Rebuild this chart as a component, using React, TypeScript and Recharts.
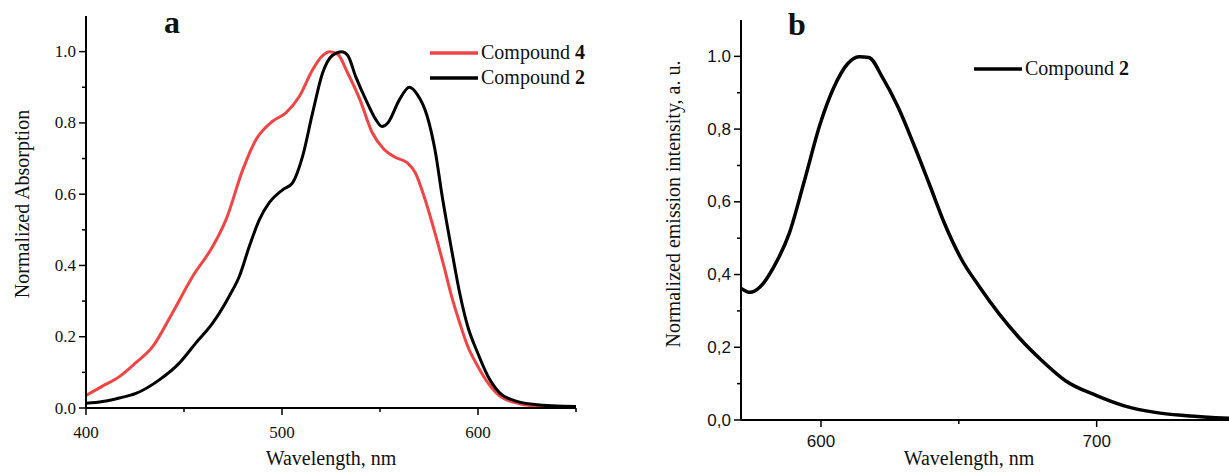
import { LineChart, Line, XAxis, YAxis, Legend, Label } from 'recharts';

// Panel a: absorption spectra
const absWaveCompound2 = [400, 408.5, 417, 425.5, 437.4, 447.6, 456, 464.6, 473, 478.2, 483.3, 488.4, 493.5, 500.3, 505.4, 510.5, 515.6, 520.7, 525.8, 530.5, 533.5, 537.6, 542.7, 547.8, 551, 554, 560, 565, 569, 574, 578, 582, 586.5, 590.6, 594.7, 599.8, 605, 611, 619, 629, 650];
const absCompound2 = [0.013, 0.018, 0.028, 0.041, 0.079, 0.126, 0.182, 0.238, 0.313, 0.369, 0.453, 0.528, 0.576, 0.612, 0.632, 0.706, 0.828, 0.94, 0.99, 1.0, 0.99, 0.93, 0.866, 0.81, 0.79, 0.8, 0.866, 0.9, 0.88, 0.82, 0.726, 0.585, 0.445, 0.324, 0.23, 0.155, 0.09, 0.043, 0.02, 0.01, 0.004];

const absWaveCompound4 = [400, 408, 417, 425, 434, 444, 454.4, 464.6, 471.4, 480, 486.7, 495, 502, 508.8, 515.6, 520, 524.4, 528.4, 533.5, 539.7, 546, 552, 558, 564, 568, 573, 578, 582.5, 586.5, 590.6, 594.7, 599.8, 605, 611, 619, 627, 650];
const absCompound4 = [0.035, 0.06, 0.088, 0.125, 0.172, 0.266, 0.369, 0.453, 0.528, 0.669, 0.753, 0.804, 0.828, 0.874, 0.949, 0.985, 1.0, 0.993, 0.94, 0.866, 0.773, 0.726, 0.703, 0.688, 0.66, 0.585, 0.492, 0.4, 0.314, 0.24, 0.174, 0.118, 0.071, 0.034, 0.015, 0.006, 0.002];

// Panel b: emission spectrum
const emWave = [571, 574.3, 577.8, 582.8, 588.4, 594, 599.7, 604.7, 609.6, 613.8, 617.4, 622.3, 628, 633.6, 639.3, 644.9, 650.6, 657.6, 664.7, 671.8, 680.2, 688.7, 700, 710, 721.2, 732.5, 748];
const emCompound2 = [0.362, 0.351, 0.365, 0.42, 0.511, 0.658, 0.814, 0.915, 0.979, 0.999, 0.997, 0.942, 0.86, 0.759, 0.649, 0.539, 0.447, 0.365, 0.291, 0.227, 0.163, 0.108, 0.067, 0.039, 0.021, 0.012, 0.005];

const leftXTicks = [400, 450, 500, 550, 600, 650];
const leftXMajor = [400, 500, 600];
const yTicks = [0, 0.1, 0.2, 0.3, 0.4, 0.5, 0.6, 0.7, 0.8, 0.9, 1.0];
const yMajor = [0, 0.2, 0.4, 0.6, 0.8, 1.0];
const rightXTicks = [600, 650, 700];
const rightXMajor = [600, 700];
const rightYLabels = ['0,0', '0,2', '0,4', '0,6', '0,8', '1.0'];

const zip = (xs: number[], ys: number[]) => xs.map((w, i) => ({ w, v: ys[i] }));

const serif = '"Liberation Serif", "Times New Roman", serif';
const sans = '"Liberation Sans", Arial, sans-serif';

const isIn = (list: number[], v: number) => list.some((m) => Math.abs(m - v) < 1e-6);

const makeYTick = (font: string, fmt: (v: number) => string) => (props: any) => {
  const { x, y, payload } = props;
  const major = isIn(yMajor, payload.value);
  return (
    <g>
      <line x1={x} x2={x - (major ? 7 : 4)} y1={y} y2={y} stroke="#000" strokeWidth={1.5} />
      {major && (
        <text x={x - 10} y={y} textAnchor="end" dominantBaseline="central" fontFamily={font} fontSize={17} fill="#111">
          {fmt(payload.value)}
        </text>
      )}
    </g>
  );
};

const makeXTick = (font: string, majors: number[], dy: number) => (props: any) => {
  const { x, y, payload } = props;
  const major = isIn(majors, payload.value);
  return (
    <g>
      <line x1={x} x2={x} y1={y} y2={y + (major ? 7 : 4)} stroke="#000" strokeWidth={1.5} />
      {major && (
        <text x={x} y={y + dy} textAnchor="middle" fontFamily={font} fontSize={17} fill="#111">
          {payload.value}
        </text>
      )}
    </g>
  );
};

const LegendBox = ({ items }: { items: { name: string; bold: string; color: string }[] }) => (
  <div style={{ fontFamily: serif, fontSize: 20, color: '#111' }}>
    {items.map((it) => (
      <div key={it.name + it.bold} style={{ display: 'flex', alignItems: 'center', height: 25 }}>
        <svg width={48} height={6} style={{ marginRight: 3 }}>
          <line x1={0} x2={48} y1={3} y2={3} stroke={it.color} strokeWidth={3.5} />
        </svg>
        <span>
          {it.name} <b>{it.bold}</b>
        </span>
      </div>
    ))}
  </div>
);

const App = () => {
  return (
    <div style={{ position: 'absolute', left: 0, top: 0, width: 1229, height: 473, background: '#fff' }}>
      <div style={{ position: 'absolute', left: 0, top: 0 }}>
        <LineChart width={620} height={473} margin={{ top: 16, right: 44, bottom: 0, left: 0 }}>
          <XAxis
            dataKey="w"
            type="number"
            domain={[400, 650]}
            allowDataOverflow
            ticks={leftXTicks}
            interval={0}
            height={65}
            tickSize={0}
            tickMargin={0}
            tickLine={false}
            axisLine={{ stroke: '#000', strokeWidth: 2 }}
            tick={makeXTick(serif, leftXMajor, 30)}
          >
            <Label
              content={(p: any) => (
                <text x={p.viewBox.x + p.viewBox.width / 2} y={p.viewBox.y + 57} textAnchor="middle" fontFamily={serif} fontSize={20} fill="#111">
                  Wavelength, nm
                </text>
              )}
            />
          </XAxis>
          <YAxis
            type="number"
            domain={[0, 1.1]}
            allowDataOverflow
            ticks={yTicks}
            interval={0}
            width={86}
            tickSize={0}
            tickMargin={0}
            tickLine={false}
            axisLine={{ stroke: '#000', strokeWidth: 2 }}
            tick={makeYTick(serif, (v) => v.toFixed(1))}
          >
            <Label
              content={() => (
                <text x={22} y={204} transform="rotate(-90 22 204)" textAnchor="middle" dominantBaseline="central" fontFamily={serif} fontSize={20} fill="#111">
                  Normalized Absorption
                </text>
              )}
            />
          </YAxis>
          <Legend
            layout="vertical"
            verticalAlign="middle"
            align="center"
            wrapperStyle={{ position: 'absolute', left: 430, top: 40, width: 'auto' }}
            content={() => (
              <LegendBox
                items={[
                  { name: 'Compound', bold: '4', color: '#f04545' },
                  { name: 'Compound', bold: '2', color: '#000' },
                ]}
              />
            )}
          />
          <Line data={zip(absWaveCompound4, absCompound4)} dataKey="v" name="Compound 4" type="monotone" dot={false} stroke="#f04545" strokeWidth={3} isAnimationActive={false} />
          <Line data={zip(absWaveCompound2, absCompound2)} dataKey="v" name="Compound 2" type="monotone" dot={false} stroke="#000" strokeWidth={3} isAnimationActive={false} />
        </LineChart>
      </div>
      <div style={{ position: 'absolute', left: 164, top: 4, fontFamily: serif, fontSize: 32, fontWeight: 'bold', color: '#111' }}>a</div>

      <div style={{ position: 'absolute', left: 620, top: 0 }}>
        <LineChart width={609} height={473} margin={{ top: 20, right: 0, bottom: 0, left: 0 }}>
          <XAxis
            dataKey="w"
            type="number"
            domain={[571, 748]}
            allowDataOverflow
            ticks={rightXTicks}
            interval={0}
            height={53}
            tickSize={0}
            tickMargin={0}
            tickLine={false}
            axisLine={{ stroke: '#000', strokeWidth: 2 }}
            tick={makeXTick(sans, rightXMajor, 27)}
          >
            <Label
              content={() => (
                <text x={349} y={465} textAnchor="middle" fontFamily={serif} fontSize={20} fill="#111">
                  Wavelength, nm
                </text>
              )}
            />
          </XAxis>
          <YAxis
            type="number"
            domain={[0, 1.1]}
            allowDataOverflow
            ticks={yTicks}
            interval={0}
            width={121}
            tickSize={0}
            tickMargin={0}
            tickLine={false}
            axisLine={{ stroke: '#000', strokeWidth: 2 }}
            tick={makeYTick(sans, (v) => rightYLabels[Math.round(v * 5)])}
          >
            <Label
              content={() => (
                <text x={53} y={204} transform="rotate(-90 53 204)" textAnchor="middle" dominantBaseline="central" fontFamily={serif} fontSize={20} fill="#111">
                  Normalized emission intensity, a. u.
                </text>
              )}
            />
          </YAxis>
          <Legend
            layout="vertical"
            verticalAlign="middle"
            align="center"
            wrapperStyle={{ position: 'absolute', left: 354, top: 56, width: 'auto' }}
            content={() => <LegendBox items={[{ name: 'Compound', bold: '2', color: '#000' }]} />}
          />
          <Line data={zip(emWave, emCompound2)} dataKey="v" name="Compound 2" type="monotone" dot={false} stroke="#000" strokeWidth={3.5} isAnimationActive={false} />
        </LineChart>
      </div>
      <div style={{ position: 'absolute', left: 788, top: 6, fontFamily: serif, fontSize: 32, fontWeight: 'bold', color: '#111' }}>b</div>
    </div>
  );
};

export default App;
